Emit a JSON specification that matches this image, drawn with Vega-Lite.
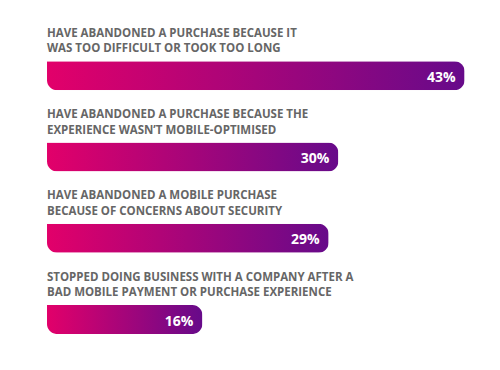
{
  "$schema": "https://vega.github.io/schema/vega-lite/v6.json",
  "autosize": "none",
  "width": 453,
  "height": 325.2,
  "padding": {"left": 47, "top": 20, "right": 0, "bottom": 0},
  "background": "white",
  "config": {"view": {"stroke": null}},
  "data": {
    "values": [
      {"label": "HAVE ABANDONED A PURCHASE BECAUSE IT\nWAS TOO DIFFICULT OR TOOK TOO LONG", "value": 43, "text": "43%", "order": 1},
      {"label": "HAVE ABANDONED A PURCHASE BECAUSE THE\nEXPERIENCE WASN’T MOBILE-OPTIMISED", "value": 30, "text": "30%", "order": 2},
      {"label": "HAVE ABANDONED A MOBILE PURCHASE\nBECAUSE OF CONCERNS ABOUT SECURITY", "value": 29, "text": "29%", "order": 3},
      {"label": "STOPPED DOING BUSINESS WITH A COMPANY AFTER A\nBAD MOBILE PAYMENT OR PURCHASE EXPERIENCE", "value": 16, "text": "16%", "order": 4}
    ]
  },
  "encoding": {
    "y": {
      "field": "order",
      "type": "ordinal",
      "axis": null,
      "scale": {"paddingInner": 0, "paddingOuter": 0}
    }
  },
  "layer": [
    {
      "mark": {
        "type": "bar",
        "height": 29,
        "yOffset": 15,
        "cornerRadiusTopLeft": 0,
        "cornerRadiusBottomLeft": 10,
        "cornerRadiusTopRight": 10,
        "cornerRadiusBottomRight": 10,
        "color": {
          "gradient": "linear",
          "x1": 0, "x2": 1, "y1": 0, "y2": 0,
          "stops": [
            {"offset": 0, "color": "#e2006a"},
            {"offset": 1, "color": "#670a8a"}
          ]
        }
      },
      "encoding": {
        "x": {"field": "value", "type": "quantitative", "axis": null, "scale": {"domain": [0, 46.65], "nice": false}}
      }
    },
    {
      "mark": {
        "type": "text",
        "align": "left",
        "baseline": "alphabetic",
        "dy": -24,
        "lineBreak": "\n",
        "lineHeight": 15.6,
        "font": "Open Sans",
        "fontWeight": "bold",
        "fontSize": 11.5,
        "color": "#666666"
      },
      "encoding": {
        "x": {"datum": 0, "type": "quantitative"},
        "text": {"field": "label"}
      }
    },
    {
      "mark": {
        "type": "text",
        "align": "right",
        "baseline": "alphabetic",
        "dx": -9,
        "dy": 21,
        "font": "Open Sans",
        "fontWeight": "bold",
        "fontSize": 14,
        "color": "white"
      },
      "encoding": {
        "x": {"field": "value", "type": "quantitative"},
        "text": {"field": "text"}
      }
    }
  ]
}
